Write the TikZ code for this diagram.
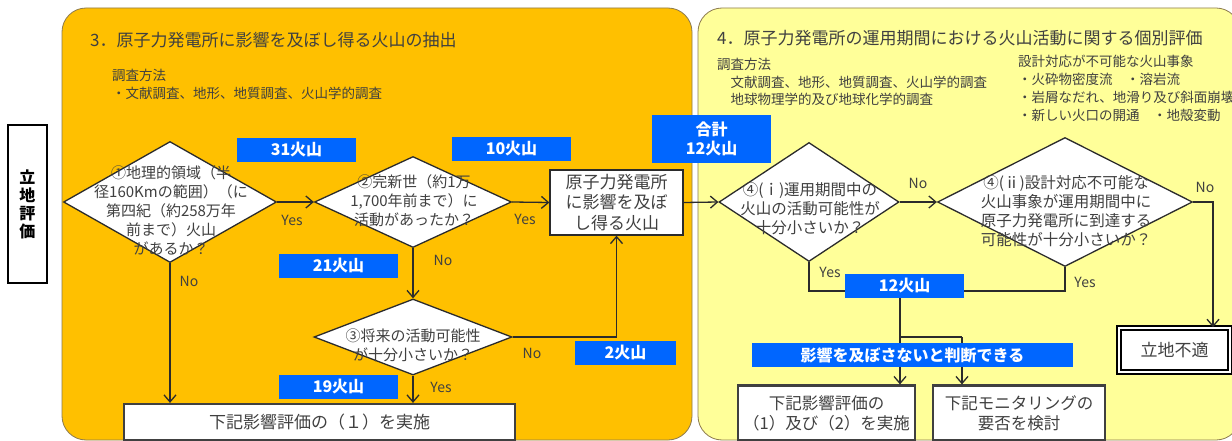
\documentclass[tikz,border=0pt]{standalone}
\usepackage{fontspec}
\setmainfont{Noto Sans CJK JP}
\usetikzlibrary{arrows.meta,positioning,shapes.geometric}
\definecolor{panOrg}{HTML}{FFC000}
\definecolor{panYel}{HTML}{FFFF99}
\definecolor{panEdge}{HTML}{8C7A4E}
\definecolor{cntBlue}{HTML}{0066FF}
\definecolor{txtGray}{HTML}{404040}
\definecolor{lineDark}{HTML}{2B2B2B}

\begin{document}
\begin{tikzpicture}[
  x=1pt, y=-1pt,
  font=\fontsize{15}{19}\selectfont,
  panel/.style={draw=panEdge, line width=0.8pt, rounded corners=24pt},
  dia/.style={diamond, draw=lineDark, fill=white, line width=1.3pt, inner sep=0pt},
  qtxt/.style={align=center, text=txtGray, inner sep=0pt,
    font=\fontsize{15}{19}\selectfont},
  box/.style={draw=lineDark, fill=white, line width=1.3pt, align=center,
    text=txtGray, inner sep=0pt},
  resbox/.style={box, draw=black!75, line width=2.2pt},
  cnt/.style={fill=cntBlue, text=white, inner sep=0pt, align=center,
    font=\fontsize{16}{19}\selectfont\bfseries},
  ar/.style={-{Straight Barb[length=7pt,width=12pt]}, line width=1.3pt, lineDark},
  ln/.style={line width=1.3pt, lineDark},
  yn/.style={font=\fontsize{14}{16}\selectfont, text=txtGray, inner sep=1pt},
  ttl/.style={anchor=west, font=\fontsize{17}{20}\selectfont, text=txtGray, inner sep=0pt},
  note/.style={anchor=north west, align=left, text=txtGray, inner sep=0pt,
    font=\fontsize{13.5}{17.5}\selectfont},
]
\useasboundingbox (0,0) rectangle (1232,441);

% ---------------- panels ----------------
\fill[white] (0,0) rectangle (1232,441);
\draw[panel, fill=panOrg] (62,8) rectangle (692,440);
\draw[panel, fill=panYel] (698,8) rectangle (1240,440);

\node[draw=black, fill=white, line width=1.2pt, minimum width=39pt,
  minimum height=158pt, align=center, inner sep=0pt,
  font=\fontsize{16}{18}\selectfont\bfseries] (site) at (27.5,204) {立\\地\\評\\価};

\node[ttl] (ttl3) at (90,40) {3．原子力発電所に影響を及ぼし得る火山の抽出};
\node[ttl] (ttl4) at (717,38) {4．原子力発電所の運用期間における火山活動に関する個別評価};

\node[note] (meth3) at (112,69) {調査方法\\・文献調査、地形、地質調査、火山学的調査};
\node[note] (meth4) at (717,58) {調査方法\\　文献調査、地形、地質調査、火山学的調査\\　地球物理学的及び地球化学的調査};
\node[note, font=\fontsize{13.5}{18}\selectfont] (evts) at (1018,55)
  {設計対応が不可能な火山事象\\・火砕物密度流　・溶岩流\\・岩屑なだれ、地滑り及び斜面崩壊\\・新しい火口の開通　・地殻変動};

% ---------------- extraction (3) ----------------
\node[dia, minimum width=213pt, minimum height=121pt] (d1) at (170,202) {};
\node[qtxt] (q1) at (171,210)
  {①地理的領域（半\\径160Kmの範囲）（に\\第四紀（約258万年\\前まで）火山\\があるか？};

\node[dia, minimum width=197pt, minimum height=91pt] (d2) at (413,202) {};
\node[qtxt] (q2) at (414,201) {②完新世（約1万\\1,700年前まで）に\\活動があったか？};

\node[dia, minimum width=198pt, minimum height=76pt] (d3) at (413,337) {};
\node[qtxt] (q3) at (413,345) {③将来の活動可能性\\が十分小さいか？};

\node[box, minimum width=133pt, minimum height=65pt,
  font=\fontsize{17}{20.5}\selectfont] (src) at (616.5,202.5)
  {原子力発電所\\に影響を及ぼ\\し得る火山};

\node[resbox, minimum width=391pt, minimum height=36pt,
  font=\fontsize{17}{20}\selectfont] (r1) at (319.5,422) {下記影響評価の（１）を実施};

% ---------------- individual evaluation (4) ----------------
\node[dia, minimum width=180pt, minimum height=119pt] (d4) at (809,202) {};
\node[qtxt, font=\fontsize{15.5}{19}\selectfont] (q4) at (810,209)
  {④(ｉ)運用期間中の\\火山の活動可能性が\\十分小さいか？};

\node[dia, minimum width=255pt, minimum height=129pt] (d5) at (1065,202) {};
\node[qtxt, font=\fontsize{15.5}{19}\selectfont] (q5) at (1066,211)
  {④(ⅱ)設計対応不可能な\\火山事象が運用期間中に\\原子力発電所に到達する\\可能性が十分小さいか？};

\node[resbox, minimum width=177pt, minimum height=55pt,
  font=\fontsize{16.5}{20}\selectfont] (r2) at (826.5,413) {下記影響評価の\\（1）及び（2）を実施};
\node[resbox, minimum width=172pt, minimum height=55pt,
  font=\fontsize{16.5}{20}\selectfont] (r3) at (1019,413) {下記モニタリングの\\要否を検討};
\node[box, draw=black, line width=1.6pt, double=white, double distance=2.5pt,
  minimum width=111pt, minimum height=44pt,
  font=\fontsize{17}{20}\selectfont] (r4) at (1174.5,350) {立地不適};

% ---------------- arrows ----------------
\draw[ar] (d1.east) -- (d2.west);
\draw[ar] (d1.south) -- (d1.south |- r1.north);
\draw[ar] (d2.east) -- (src.west);
\draw[ar] (d2.south) -- (d3.north);
\draw[ar] (d3.south) -- (d3.south |- r1.north);
\draw[ar] (d3.east) -| (src.south);
\draw[ar] (src.east) -- (d4.west);
\draw[ar] (d4.east) -- (d5.west);

\coordinate (mj) at (900,291);
\coordinate (bj) at (900,337);
\coordinate (bk) at (962,337);
\coordinate (d5r) at (1213,202);
\draw[ln] (d4.south) |- (mj) -| (d5.south);
\draw[ar] (mj) -- (mj |- r2.north);
\draw[ln] (bj) -- (bk);
\draw[ar] (bk) -- (bk |- r3.north);
\draw[ar] (d5.east) -- (d5r) -- (d5r |- r4.north);

\node[yn] (y1) at (292,220) {Yes};
\node[yn] (n1) at (189,281) {No};
\node[yn] (y2) at (525,219) {Yes};
\node[yn] (n2) at (443,260) {No};
\node[yn] (n3) at (532,353) {No};
\node[yn] (y3) at (441,387) {Yes};
\node[yn] (n4) at (918,183) {No};
\node[yn] (y4) at (830,272) {Yes};
\node[yn] (y5) at (1085,282) {Yes};
\node[yn] (n5) at (1205,187) {No};

% ---------------- volcano counts ----------------
\node[cnt, minimum width=119pt, minimum height=24pt] (c31) at (296.5,150) {31火山};
\node[cnt, minimum width=119pt, minimum height=24pt] (c10) at (511.5,149) {10火山};
\node[cnt, minimum width=119pt, minimum height=48pt] (csum) at (711.5,139) {合計\\12火山};
\node[cnt, minimum width=119pt, minimum height=24pt] (c21) at (338.5,266) {21火山};
\node[cnt, minimum width=119pt, minimum height=24pt] (c19) at (338.5,387) {19火山};
\node[cnt, minimum width=101pt, minimum height=24pt] (c2) at (625.5,353) {2火山};
\node[cnt, minimum width=119pt, minimum height=24pt] (c12) at (904.5,286) {12火山};
\node[cnt, minimum width=321pt, minimum height=24pt] (safe) at (912.5,355) {影響を及ぼさないと判断できる};

\end{tikzpicture}
\end{document}
